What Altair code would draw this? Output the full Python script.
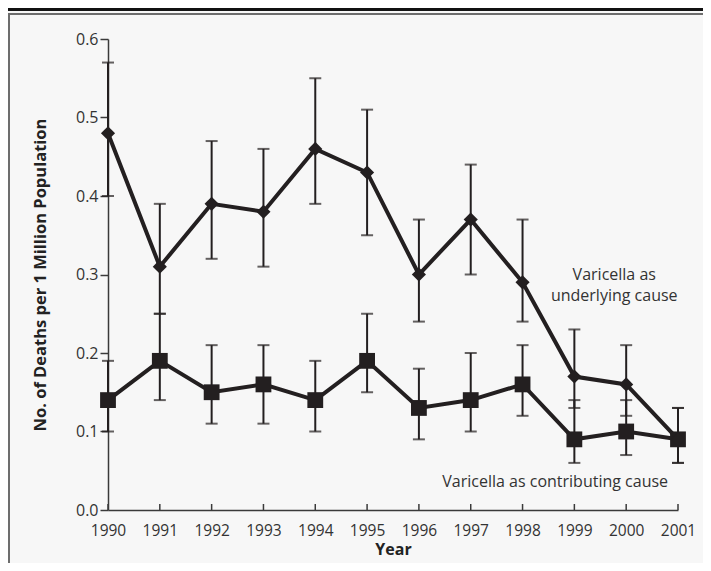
import altair as alt
import pandas as pd

years = list(range(1990, 2002))
under = [0.48, 0.31, 0.39, 0.38, 0.46, 0.43, 0.30, 0.37, 0.29, 0.17, 0.16, 0.09]
under_lo = [0.40, 0.25, 0.32, 0.31, 0.39, 0.35, 0.24, 0.30, 0.24, 0.13, 0.12, 0.06]
under_hi = [0.57, 0.39, 0.47, 0.46, 0.55, 0.51, 0.37, 0.44, 0.37, 0.23, 0.21, 0.13]
contrib = [0.14, 0.19, 0.15, 0.16, 0.14, 0.19, 0.13, 0.14, 0.16, 0.09, 0.10, 0.09]
contrib_lo = [0.10, 0.14, 0.11, 0.11, 0.10, 0.15, 0.09, 0.10, 0.12, 0.06, 0.07, 0.06]
contrib_hi = [0.19, 0.25, 0.21, 0.21, 0.19, 0.25, 0.18, 0.20, 0.21, 0.14, 0.14, 0.13]
y_ticks = [0.0, 0.1, 0.2, 0.3, 0.4, 0.5, 0.6]

ann_text = ["Varicella as\nunderlying cause", "Varicella as contributing cause"]
ann_x = [1999.77, 1998.63]
ann_y = [0.300, 0.036]

W, H = 570, 471
INK = "#231f20"
AX = "#3a3a3a"
FONT = "Open Sans"

ud = pd.DataFrame({"year": years, "v": under, "lo": under_lo, "hi": under_hi})
cd = pd.DataFrame({"year": years, "v": contrib, "lo": contrib_lo, "hi": contrib_hi})
ad = pd.DataFrame({"x": ann_x, "y": ann_y, "t": ann_text})
td = pd.DataFrame({"year": years})

xs = alt.Scale(domain=[1990, 2001], nice=False, zero=False)
ys = alt.Scale(domain=[0, 0.6], nice=False)

X = alt.X("year:Q", scale=xs, title="Year",
          axis=alt.Axis(values=years, format="d", ticks=False, grid=False,
                        labelFlush=False, labelOverlap=False,
                        labelFont=FONT, labelFontSize=15.5, labelColor="#333333",
                        titleFont=FONT, titleFontSize=16, titleFontWeight="bold",
                        titleColor="#222222",
                        domainColor=AX, domainWidth=1.5,
                        labelPadding=13, titlePadding=3))
Y = alt.Y("v:Q", scale=ys, title="No. of Deaths per 1 Million Population",
          axis=alt.Axis(values=y_ticks, format=".1f", tickSize=8, grid=False,
                        labelFont=FONT, labelFontSize=16, labelColor="#333333",
                        titleFont=FONT, titleFontSize=16.5, titleFontWeight="bold",
                        titleColor="#222222",
                        domainColor=AX, domainWidth=1.5, tickColor=AX, tickWidth=1.5,
                        labelPadding=2, titlePadding=27))

def series(df, shape, size):
    base = alt.Chart(df)
    rule = base.mark_rule(color=INK, strokeWidth=2).encode(
        x=alt.X("year:Q", scale=xs), y=alt.Y("lo:Q", scale=ys), y2="hi:Q")
    cap_lo = base.mark_tick(color=INK, orient="horizontal", size=12, thickness=2).encode(
        x=alt.X("year:Q", scale=xs), y=alt.Y("lo:Q", scale=ys))
    cap_hi = base.mark_tick(color=INK, orient="horizontal", size=12, thickness=2).encode(
        x=alt.X("year:Q", scale=xs), y=alt.Y("hi:Q", scale=ys))
    line = base.mark_line(color=INK, strokeWidth=4).encode(x=X, y=Y)
    pts = base.mark_point(shape=shape, size=size, filled=True, color=INK, opacity=1).encode(
        x=alt.X("year:Q", scale=xs), y=alt.Y("v:Q", scale=ys))
    return [rule, cap_lo, cap_hi, line, pts]

xticks = alt.Chart(td).mark_rule(color=AX, strokeWidth=1.5).encode(
    x=alt.X("year:Q", scale=xs), y=alt.value(H), y2=alt.value(H - 6))

ann = alt.Chart(ad).mark_text(font=FONT, fontSize=16, color="#333333", align="center",
                              baseline="middle", lineBreak="\n", lineHeight=21).encode(
    x=alt.X("x:Q", scale=xs), y=alt.Y("y:Q", scale=ys), text="t:N")

frame_top_black = alt.Chart(td).mark_rule(color="#111111", strokeWidth=2.5).encode(
    x=alt.value(-100), x2=alt.value(W + 30), y=alt.value(-30))
frame_top = alt.Chart(td).mark_rule(color="#6d6d6d", strokeWidth=2).encode(
    x=alt.value(-99), x2=alt.value(W + 30), y=alt.value(-25))
frame_left = alt.Chart(td).mark_rule(color="#6d6d6d", strokeWidth=2).encode(
    x=alt.value(-99), y=alt.value(-26), y2=alt.value(H + 90))

layers = [frame_top_black, frame_top, frame_left, xticks] + series(cd, "square", 250) + series(ud, "diamond", 200) + [ann]

chart = alt.layer(*layers).properties(
    width=W, height=H,
    autosize=alt.AutoSizeParams(type="none"),
    padding={"left": 100, "top": 31, "right": 25, "bottom": 53},
    background="#f7f7f7",
).configure_view(stroke=None)

chart.save("out.html", embed_options={"renderer": "svg", "actions": False})
